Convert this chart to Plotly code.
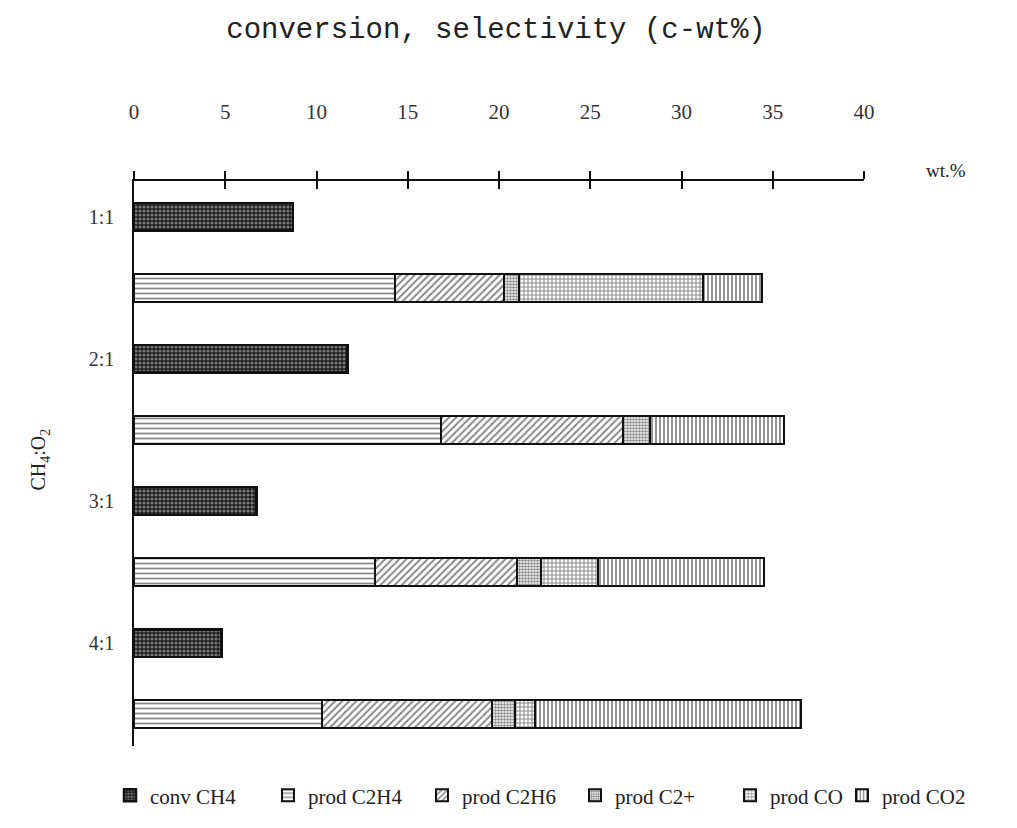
import plotly.graph_objects as go

ratios = ["1:1", "2:1", "3:1", "4:1"]
conv_ch4 = [8.7, 11.7, 6.7, 4.8]
prod_c2h4 = [14.3, 16.8, 13.2, 10.3]
prod_c2h6 = [6.0, 10.0, 7.8, 9.3]
prod_c2plus = [0.8, 1.5, 1.3, 1.3]
prod_co = [10.1, 0.0, 3.1, 1.05]
prod_co2 = [3.2, 7.3, 9.1, 14.6]

x_ticks = [0, 5, 10, 15, 20, 25, 30, 35, 40]

W, H = 1017, 828
L, R, T, B = 134, 153, 181, 78
y_top_px, y_bot_px = 181, 750
y0_px, step_px = 217, 71.57
plot_w = W - L - R
plot_h = H - T - B

conv_pos = [2 * i for i in range(len(ratios))]
prod_pos = [2 * i + 1 for i in range(len(ratios))]

# legend symbol left edges in pixels (from the reference layout)
legend_px = [110, 268, 422, 575, 730, 842]
legend_names = ["legend", "legend2", "legend3", "legend4", "legend5", "legend6"]

fig = go.Figure()

edge = dict(color="#111", width=2)

fig.add_trace(go.Bar(
    y=conv_pos, x=conv_ch4, orientation="h", name="conv CH4", width=0.39, legend=legend_names[0],
    marker=dict(color="#222", line=dict(color="#111", width=2.5),
                pattern=dict(shape=".", bgcolor="#1a1a1a", fgcolor="#d8d8d8", size=4, solidity=0.5)),
))

prod_series = [
    ("prod C2H4", prod_c2h4, "-", 5, 0.35),
    ("prod C2H6", prod_c2h6, "/", 5, 0.4),
    ("prod C2+", prod_c2plus, ".", 3, 0.55),
    ("prod CO", prod_co, "+", 4, 0.45),
    ("prod CO2", prod_co2, "|", 4, 0.45),
]
for k, (name, vals, shape, size, sol) in enumerate(prod_series):
    fig.add_trace(go.Bar(
        y=prod_pos, x=vals, orientation="h", name=name, width=0.39, legend=legend_names[k + 1],
        marker=dict(color="white", line=edge,
                    pattern=dict(shape=shape, bgcolor="white", fgcolor="#111", size=size, solidity=sol)),
    ))

ymin = (y_top_px - y0_px) / step_px
ymax = (y_bot_px - y0_px) / step_px

serif = "Liberation Serif"

legend_common = dict(orientation="h", xanchor="left", y=(y_bot_px - 800) / plot_h, yanchor="middle",
                     font=dict(family=serif, size=21, color="#222"), itemwidth=30,
                     bgcolor="rgba(0,0,0,0)")
legends = {}
for nm, px in zip(legend_names, legend_px):
    legends[nm] = dict(legend_common, x=(px - L) / plot_w)

fig.update_layout(
    width=W, height=H,
    margin=dict(l=L, r=R, t=T, b=B),
    paper_bgcolor="white", plot_bgcolor="white",
    barmode="stack",
    showlegend=True,
    title=dict(text="conversion, selectivity (c-wt%)", x=(496 - L) / plot_w, xref="paper",
               xanchor="center", y=1 - 28 / H, yanchor="middle",
               font=dict(family="Liberation Mono", size=29, color="#222")),
    font=dict(family=serif, size=19, color="#333"),
    xaxis=dict(side="top", range=[0, 40], tickvals=x_ticks, ticktext=[str(v) for v in x_ticks],
               showline=True, linecolor="#111", linewidth=1.5, ticks="outside", ticklen=8,
               tickcolor="#111", tickwidth=1.5, ticklabelstandoff=44, showgrid=False, zeroline=False,
               tickfont=dict(family=serif, size=21, color="#333")),
    xaxis2=dict(overlaying="x", side="top", range=[0, 40], tickvals=x_ticks, ticks="inside",
                ticklen=8, tickcolor="#111", tickwidth=1.5, showticklabels=False, showline=False,
                showgrid=False, zeroline=False),
    yaxis=dict(range=[ymax, ymin], tickvals=conv_pos, ticktext=ratios, showline=True,
               linecolor="#111", linewidth=1.5, ticks="", showgrid=False, zeroline=False,
               ticklabelstandoff=14, tickfont=dict(family=serif, size=20, color="#333")),
    **legends,
)

# dummy trace to activate xaxis2 ticks
fig.add_trace(go.Scatter(x=[0], y=[0], xaxis="x2", mode="markers", marker=dict(opacity=0),
                         showlegend=False, hoverinfo="skip"))

fig.add_annotation(text="wt.%", xref="paper", yref="paper",
                   x=(968 - L) / plot_w, y=1 + (181 - 158) / plot_h,
                   showarrow=False, font=dict(family=serif, size=19, color="#222"))
fig.add_annotation(text="CH<sub>4</sub>:O<sub>2</sub>", xref="paper", yref="paper",
                   x=(25 - L) / plot_w, y=1 - (462 - 181) / plot_h, textangle=-90,
                   showarrow=False, font=dict(family=serif, size=20, color="#222"))

fig.write_html("out.html")
